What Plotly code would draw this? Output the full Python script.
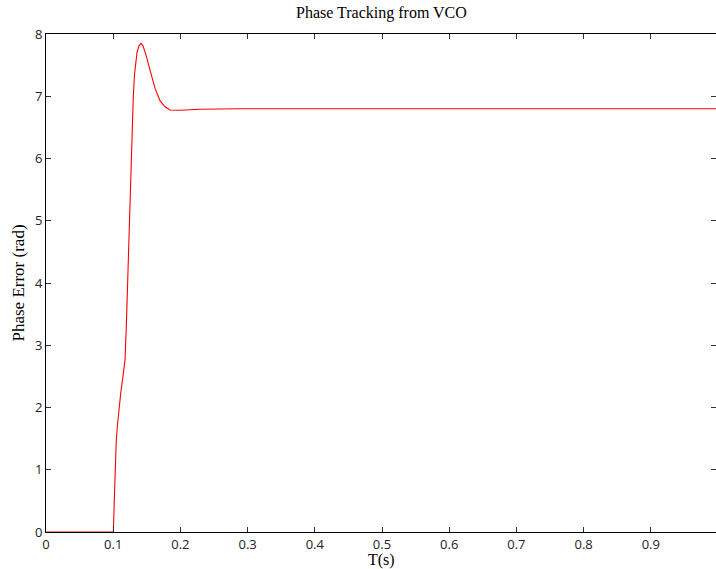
import plotly.graph_objects as go

# Phase error of the VCO loop over time (seconds, radians)
t_s = [0.0, 0.1, 0.1002, 0.1016, 0.1031, 0.1045, 0.1061, 0.1085, 0.1112,
       0.1145, 0.1176, 0.1195, 0.1210, 0.1224, 0.1240, 0.1257, 0.1272,
       0.1284, 0.1299, 0.1317, 0.1335, 0.1354, 0.1384, 0.1414, 0.1443,
       0.1488, 0.1548, 0.1622, 0.1696, 0.1771, 0.1845, 0.1994, 0.2292,
       0.2887, 0.40, 0.60, 0.80, 1.0]
phase_err = [0.0, 0.0, 0.0, 0.51, 1.16, 1.45, 1.69, 1.97, 2.23,
             2.50, 2.76, 3.30, 3.89, 4.45, 4.96, 5.50, 6.05,
             6.46, 6.99, 7.35, 7.53, 7.70, 7.81, 7.85, 7.81,
             7.66, 7.42, 7.13, 6.93, 6.83, 6.78, 6.775, 6.79,
             6.80, 6.80, 6.80, 6.80, 6.80]

x_ticks = [0, 0.1, 0.2, 0.3, 0.4, 0.5, 0.6, 0.7, 0.8, 0.9]
x_tick_text = ["0", "0.1", "0.2", "0.3", "0.4", "0.5", "0.6", "0.7", "0.8", "0.9"]
y_ticks = [0, 1, 2, 3, 4, 5, 6, 7, 8]

serif = "Liberation Serif"
sans = "Open Sans"

fig = go.Figure()
fig.add_trace(go.Scatter(
    x=t_s, y=phase_err, mode="lines",
    line=dict(color="#ff0000", width=1.1),
    showlegend=False, hoverinfo="skip",
))

axis_common = dict(
    showgrid=False, zeroline=False,
    showline=True, linecolor="#000000", linewidth=1,
    mirror="ticks", ticks="inside", ticklen=5, tickwidth=1,
    tickcolor="#333333",
    tickfont=dict(family=sans, size=13, color="#222222"),
)

fig.update_xaxes(range=[0, 0.997], tickvals=x_ticks, ticktext=x_tick_text,
                 **axis_common)
fig.update_yaxes(range=[0, 8], tickvals=y_ticks, **axis_common)

fig.add_annotation(text="Phase Tracking from VCO", xref="paper", yref="paper",
                   x=0.5, y=1, yanchor="bottom", yshift=10, showarrow=False,
                   font=dict(family=serif, size=16, color="#000000"))
fig.add_annotation(text="T(s)", xref="paper", yref="paper",
                   x=0.5, y=0, yanchor="top", yshift=-17, showarrow=False,
                   font=dict(family=serif, size=16, color="#000000"))
fig.add_annotation(text="Phase Error (rad)", xref="paper", yref="paper",
                   x=0, y=0.5, xanchor="right", xshift=-17, textangle=-90,
                   showarrow=False,
                   font=dict(family=serif, size=17, color="#000000"))

fig.update_layout(
    width=716, height=569,
    margin=dict(l=46, r=0, t=34, b=37),
    paper_bgcolor="#ffffff", plot_bgcolor="#ffffff",
)

fig.write_html("out.html")
